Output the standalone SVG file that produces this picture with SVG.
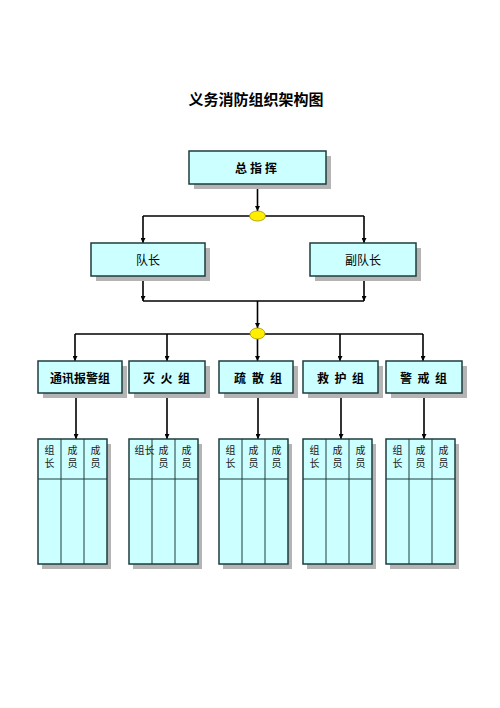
<svg xmlns="http://www.w3.org/2000/svg" width="500" height="708" viewBox="0 0 500 708">
<style>
text{font-family:"Noto Sans CJK SC","Noto Sans CJK JP",sans-serif;fill:#000}
.title{font-size:15px;font-weight:bold}
.lbl{font-size:12px;font-weight:bold;text-anchor:middle;dominant-baseline:central}
.lbl2{font-size:12px;text-anchor:middle;dominant-baseline:central}
.box{fill:#CCFFFF;stroke:#1E3C3C;stroke-width:1.5}
.shd{fill:#B4B4B4}
.cell{font-size:10px;fill:#222}
.v{writing-mode:vertical-rl;letter-spacing:3px}
.ln{stroke:#000;stroke-width:1.6;fill:none}
.tl{stroke:#1E3C3C;stroke-width:1;fill:none}
.dot{fill:#FFEE00;stroke:#A09000;stroke-width:0.8}
</style>
<defs>
<marker id="ar" viewBox="0 0 10 10" refX="10" refY="5" markerWidth="5" markerHeight="5" orient="auto" markerUnits="userSpaceOnUse">
<path d="M0,0 L10,5 L0,10 z" fill="#000"/>
</marker>
<g id="tbl">
<rect class="shd" x="4" y="5" width="69" height="125"/>
<rect class="box" x="0" y="0" width="69" height="125" stroke-width="1"/>
<path class="tl" d="M0,40 H69 M23,0 V125 M46,0 V125"/>
</g>
</defs>
<text class="title" x="256" y="105" text-anchor="middle">义务消防组织架构图</text>

<g id="connectors">
<path class="ln" d="M257.5,184 V211" marker-end="url(#ar)"/>
<path class="ln" d="M143,216 H364"/>
<path class="ln" d="M143,216 V243" marker-end="url(#ar)"/>
<path class="ln" d="M364,216 V243" marker-end="url(#ar)"/>
<path class="ln" d="M143,276 V301" marker-end="url(#ar)"/>
<path class="ln" d="M364,276 V301" marker-end="url(#ar)"/>
<path class="ln" d="M143,301 H364"/>
<path class="ln" d="M257.5,301 V328" marker-end="url(#ar)"/>
<path class="ln" d="M75,334 H423"/>
<path class="ln" d="M75,334 V361" marker-end="url(#ar)"/>
<path class="ln" d="M167,334 V361" marker-end="url(#ar)"/>
<path class="ln" d="M257.5,334 V361" marker-end="url(#ar)"/>
<path class="ln" d="M340,334 V361" marker-end="url(#ar)"/>
<path class="ln" d="M423,334 V361" marker-end="url(#ar)"/>
<path class="ln" d="M76,393 V439" marker-end="url(#ar)"/>
<path class="ln" d="M167,393 V439" marker-end="url(#ar)"/>
<path class="ln" d="M258,393 V439" marker-end="url(#ar)"/>
<path class="ln" d="M341,393 V439" marker-end="url(#ar)"/>
<path class="ln" d="M424,393 V439" marker-end="url(#ar)"/>
<ellipse class="dot" cx="257.5" cy="216" rx="8" ry="5"/>
<ellipse class="dot" cx="257.5" cy="333.5" rx="7.5" ry="5.5"/>
</g>

<g id="n-commander">
<rect class="shd" x="194" y="156" width="137" height="33"/>
<rect class="box" x="189" y="151" width="137" height="33"/>
<text class="lbl" x="241 256 271" y="167.5">总指挥</text>
</g>
<g id="n-captain">
<rect class="shd" x="96" y="248" width="114" height="33"/>
<rect class="box" x="91" y="243" width="114" height="33"/>
<text class="lbl2" x="148" y="259.5">队长</text>
</g>
<g id="n-vice">
<rect class="shd" x="315" y="248" width="106" height="33"/>
<rect class="box" x="310" y="243" width="106" height="33"/>
<text class="lbl2" x="363" y="259.5">副队长</text>
</g>

<g id="n-g1">
<rect class="shd" x="43" y="366" width="84" height="32"/>
<rect class="box" x="38" y="361" width="84" height="32"/>
<text class="lbl" x="80" y="377">通讯报警组</text>
</g>
<g id="n-g2">
<rect class="shd" x="134" y="366" width="76" height="32"/>
<rect class="box" x="129" y="361" width="76" height="32"/>
<text class="lbl" x="149 166.5 184" y="377">灭火组</text>
</g>
<g id="n-g3">
<rect class="shd" x="224" y="366" width="74" height="32"/>
<rect class="box" x="219" y="361" width="74" height="32"/>
<text class="lbl" x="240 258 276" y="377">疏散组</text>
</g>
<g id="n-g4">
<rect class="shd" x="308" y="366" width="75" height="32"/>
<rect class="box" x="303" y="361" width="75" height="32"/>
<text class="lbl" x="323 340.5 358" y="377">救护组</text>
</g>
<g id="n-g5">
<rect class="shd" x="391" y="366" width="76" height="32"/>
<rect class="box" x="386" y="361" width="76" height="32"/>
<text class="lbl" x="406 423.5 441" y="377">警戒组</text>
</g>

<g id="t1">
<use href="#tbl" x="38" y="439"/>
<text class="cell v" x="49.5" y="445">组长</text>
<text class="cell v" x="72.5" y="445">成员</text>
<text class="cell v" x="95.5" y="445">成员</text>
</g>
<g id="t2">
<use href="#tbl" x="129" y="439"/>
<text class="cell" x="144.5" y="454" text-anchor="middle">组长</text>
<text class="cell v" x="163.5" y="445">成员</text>
<text class="cell v" x="186.5" y="445">成员</text>
</g>
<g id="t3">
<use href="#tbl" x="219" y="439"/>
<text class="cell v" x="230.5" y="445">组长</text>
<text class="cell v" x="253.5" y="445">成员</text>
<text class="cell v" x="276.5" y="445">成员</text>
</g>
<g id="t4">
<use href="#tbl" x="303" y="439"/>
<text class="cell v" x="314.5" y="445">组长</text>
<text class="cell v" x="337.5" y="445">成员</text>
<text class="cell v" x="360.5" y="445">成员</text>
</g>
<g id="t5">
<use href="#tbl" x="386" y="439"/>
<text class="cell v" x="397.5" y="445">组长</text>
<text class="cell v" x="420.5" y="445">成员</text>
<text class="cell v" x="443.5" y="445">成员</text>
</g>
</svg>
